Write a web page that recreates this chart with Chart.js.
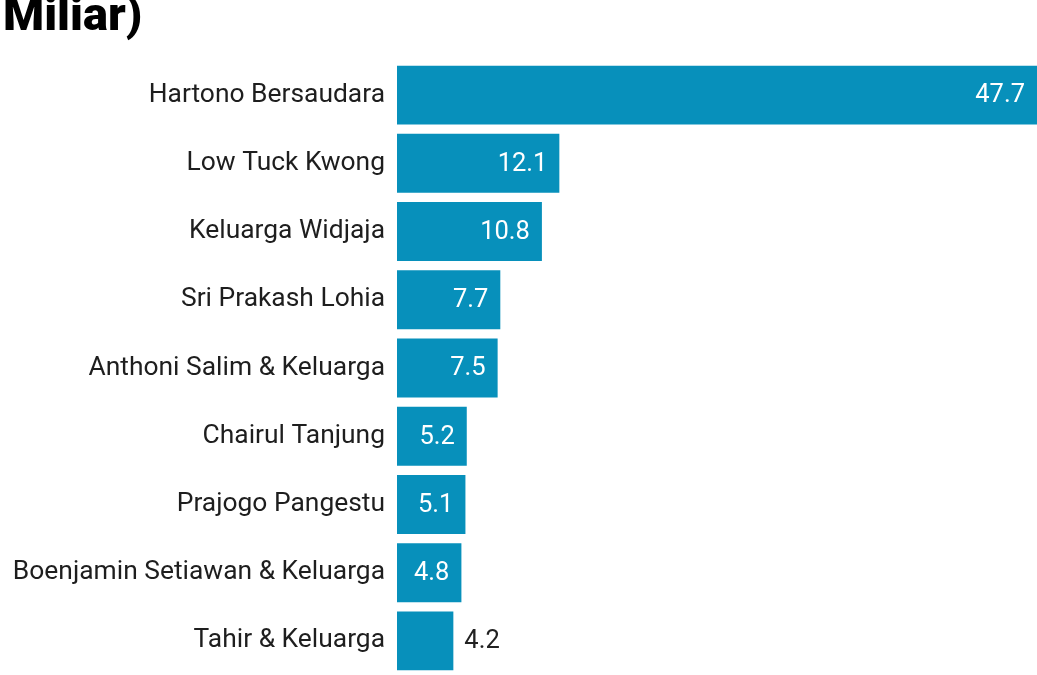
<!DOCTYPE html>
<html>
<head>
<meta charset="utf-8">
<script src="https://cdn.jsdelivr.net/npm/chart.js@4"></script>
<style>
  html, body { margin: 0; padding: 0; background: #fff; }
  #wrap { width: 1037px; height: 675px; position: relative; }
</style>
</head>
<body>
<div id="wrap"><canvas id="richest"></canvas></div>
<script>
const names = [
  'Hartono Bersaudara',
  'Low Tuck Kwong',
  'Keluarga Widjaja',
  'Sri Prakash Lohia',
  'Anthoni Salim & Keluarga',
  'Chairul Tanjung',
  'Prajogo Pangestu',
  'Boenjamin Setiawan & Keluarga',
  'Tahir & Keluarga'
]
const wealth = [47.7, 12.1, 10.8, 7.7, 7.5, 5.2, 5.1, 4.8, 4.2]
const titleText = 'Miliar)'

// value labels: inside the bar on the right, outside when it doesn't fit
const valueLabels = {
  id: 'valueLabels',
  afterDatasetsDraw(chart) {
    const ctx = chart.ctx
    const meta = chart.getDatasetMeta(0)
    ctx.save()
    ctx.font = '25.5px Roboto'
    ctx.textBaseline = 'middle'
    meta.data.forEach((bar, i) => {
      const txt = wealth[i].toFixed(1)
      const w = ctx.measureText(txt).width
      const barW = bar.x - bar.base
      if (w + 24 <= barW) {
        ctx.fillStyle = '#ffffff'
        ctx.textAlign = 'right'
        ctx.fillText(txt, bar.x - 12, bar.y + 1)
      } else {
        ctx.fillStyle = '#222222'
        ctx.textAlign = 'left'
        ctx.fillText(txt, bar.x + 11, bar.y + 1)
      }
    })
    ctx.restore()
  }
}

const ctx1 = document.getElementById('richest')

let config1 = {
  type: 'bar',
  data: {
    labels: names,
    datasets: [{
      data: wealth,
      backgroundColor: '#0790bb',
      borderWidth: 0,
      barPercentage: 0.864,
      categoryPercentage: 1
    }]
  },
  options: {
    indexAxis: 'y',
    responsive: true,
    maintainAspectRatio: false,
    animation: false,
    layout: { padding: { left: 3, right: 0, top: 0, bottom: 0 } },
    plugins: {
      legend: { display: false },
      tooltip: { enabled: false },
      title: {
        display: true,
        text: titleText,
        align: 'start',
        color: '#000000',
        font: { family: 'Roboto', size: 47, weight: 900, lineHeight: 1.2 },
        padding: { top: -9.8, bottom: 14.4 }
      }
    },
    scales: {
      x: {
        display: false,
        min: 0,
        max: 47.7
      },
      y: {
        afterFit: scale => {
          scale.width = 394
          scale.paddingTop = 0
          scale.paddingBottom = 0
        },
        grid: { display: false, drawTicks: false },
        border: { display: false },
        ticks: {
          color: '#1e1e1e',
          padding: 12,
          font: { family: 'Roboto', size: 26.4 }
        }
      }
    }
  },
  plugins: [valueLabels]
}
let chartRichest = new Chart(ctx1, config1)
</script>
</body>
</html>
